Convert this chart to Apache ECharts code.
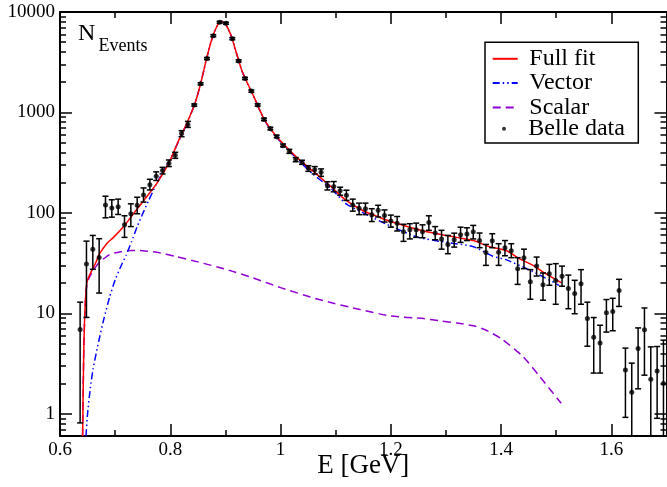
<!DOCTYPE html>
<html><head><meta charset="utf-8">
<script src="https://cdn.jsdelivr.net/npm/echarts@6/dist/echarts.min.js"></script>
<style>html,body{margin:0;padding:0;background:#fff}#c{width:667px;height:487px}</style>
</head><body><div id="c"></div>
<script>
// ---- Belle data (bin centres in GeV, events, error bar ends) ----
const dataE = [0.6365,0.6480,0.6595,0.6710,0.6825,0.6940,0.7055,0.7170,0.7285,0.7400,
0.7515,0.7630,0.7745,0.7860,0.7975,0.8090,0.8205,0.8320,0.8435,0.8550,
0.8665,0.8780,0.8895,0.9010,0.9125,0.9240,0.9355,0.9470,0.9585,0.9700,
0.9815,0.9930,1.0045,1.0160,1.0275,1.0390,1.0505,1.0620,1.0735,1.0850,
1.0965,1.1080,1.1195,1.1310,1.1425,1.1540,1.1655,1.1770,1.1885,1.2000,
1.2115,1.2230,1.2345,1.2460,1.2575,1.2690,1.2805,1.2920,1.3035,1.3150,
1.3265,1.3380,1.3495,1.3610,1.3725,1.3840,1.3955,1.4070,1.4185,1.4300,
1.4415,1.4530,1.4645,1.4760,1.4875,1.4990,1.5105,1.5220,1.5335,1.5450,
1.5565,1.5680,1.5795,1.5910,1.6025,1.6140,1.6255,1.6370,1.6485,1.6600,
1.6715,1.6830,1.6945];
const dataN = [6.9,30.9,43.3,36.0,120,112,115,76,98,119,
151,191,231,264,311,374,618,760,1184,1928,
3439,5816,7910,7730,5430,3260,2177,1631,1184,851,
689,574,467,410,339,319,278,268,254,186,
183,166,150,120,111,110,96,106,94,83,
79,65,68,68,65,80,63,55,48.5,54,
60.7,61.7,65,53,40.2,52.9,40.6,45,42,27.7,
35.8,20.6,29.5,19.2,24.7,21.2,23.4,17.7,15.7,19.7,
8.87,5.78,5.07,10.1,10.4,16.9,2.72,1.64,4.46,6.86,
2.2,2.66,2.0];
const errHi = [12.9,52.3,59.6,55.3,146.5,135,137,93.5,123,143,
177,216,256,284,336,401,658,814,1214,1975,
3520,5950,8080,7900,5560,3340,2235,1675,1218,878,
712,594,485,429,355,334,295,289,274,204,
205,180,168,137,125,125,110,119,107,95,
92,77,78,79,76,93.5,73,67,59.6,62.8,
72,71,75,63,48.5,62,49.3,53,49.3,35.8,
43.5,27.2,36.3,25.2,30.7,31.2,29.5,24,21.3,27.2,
12.9,9.07,7.6,13.7,14.1,21.8,4.5,3.19,7.15,11.3,
4.63,4.67,5.4];
const errLo = [0.81,9.1,27.4,15.9,89.3,90.6,96.4,57,73,98,
128,169,210,244,289,349,573,709,1155,1880,
3355,5675,7720,7540,5300,3180,2125,1590,1155,830,
672,560,455,391,323,304,259,244,231,169,
162,150,133,104,96,96,82,91,81,72,
66,52,55,57,56.5,67,54,43.5,39.2,45.6,
50.8,53,55,45,30,45,30,37.4,35.8,19.4,
27.8,13.8,23.5,13.5,19,12.3,18.6,11.1,9.9,12.3,
4.7,2.54,2.54,6.5,6.7,11.7,0.92,0.1,1.77,2.42,
0.1,0.9,0.1];

// ---- fit curves ----
const fullFitE = [0.641,0.643,0.645,0.647,0.649,0.652,0.659,0.665,0.671,0.685,0.697,0.717,0.729,0.752,0.775,0.798,0.815,0.83,0.845,0.855,0.865,0.875,0.885,0.8925,0.9,0.91,0.92,0.93,0.94,0.95,0.96,0.97,0.98,0.99,1.0,1.03,1.058,1.09,1.119,1.15,1.18,1.2,1.259,1.319,1.35,1.379,1.41,1.433,1.458,1.48,1.509];
const fullFitV = [0.6,4,10,16,20.5,23,27.5,32,38.5,49.5,57,75,91.5,133,194,318,523,780,1240,1930,3300,5300,7300,8100,7600,5900,3900,2600,1950,1500,1130,860,710,600,520,355,263,185,133,105,90,82,66,57,53,46,42,35,30,25,20.2];
const vectorE = [0.6471,0.65,0.655,0.66,0.67,0.68,0.69,0.70,0.71,0.72,0.73,0.74,0.75,0.76,0.775,0.79,0.80,0.815,0.83,0.845,0.855,0.865,0.875,0.885,0.8925,0.9,0.91,0.92,0.93,0.94,0.95,0.96,0.97,0.98,0.99,1.0,1.03,1.058,1.09,1.119,1.15,1.19,1.25,1.3,1.35,1.385,1.41,1.458,1.505];
const vectorV = [0.6,1.0,1.8,2.8,5.2,9.0,14.5,21.5,29,38,52,73,98,130,194,275,340,515,770,1235,1920,3280,5270,7260,8060,7560,5870,3880,2590,1930,1490,1120,850,700,590,510,345,245,178,123,100,78,57,51,46,37,34,26,19];
const scalarE = [0.641,0.643,0.645,0.647,0.649,0.652,0.659,0.671,0.69,0.71,0.73,0.75,0.775,0.81,0.85,0.9,0.95,1.0,1.07,1.144,1.2,1.26,1.29,1.32,1.35,1.37,1.4,1.44,1.47,1.509];
const scalarV = [0.6,4,10,15.5,19.5,22,26,32,38.5,41,42.2,42,40.5,36.8,32.5,27.5,22.5,18,13.7,10.9,9.4,8.85,8.4,8.0,7.5,6.9,5.6,3.7,2.35,1.27];

// ---- axis ticks ----
const xMajor = [0.6,0.8,1,1.2,1.4,1.6];
const xMinor = [0.7,0.9,1.1,1.3,1.5,1.7];
const yMajor = [1,10,100,1000,10000];
const yMinor = [0.6,0.7,0.8,0.9,2,3,4,5,6,7,8,9,20,30,40,50,60,70,80,90,200,300,400,500,600,700,800,900,2000,3000,4000,5000,6000,7000,8000,9000];

const FONT = 'Liberation Serif';
const zip = (a,b) => a.map((v,i)=>[v,b[i]]);

const chart = echarts.init(document.getElementById('c'), null, {renderer:'canvas'});
const tickStyle = {color:'#000', width:1.5};
function xAx(pos, ticks, len, main){
  return {type:'value', position:pos, min:0.6, max:1.7, gridIndex:0,
    axisLine:{show:!!main, onZero:false, lineStyle:{color:'#000', width:2}},
    axisTick:{show:true, inside:true, length:len, customValues:ticks, lineStyle:tickStyle},
    axisLabel:{show: main===2, customValues:xMajor, margin:5, color:'#000', fontFamily:FONT, fontSize:19,
      formatter: v => String(v)},
    splitLine:{show:false},
    name: main===2 ? 'E [GeV]' : '', nameLocation:'middle', nameGap:16, nameMoveOverlap:false,
    nameTextStyle:{fontFamily:FONT, fontSize:27, color:'#000', verticalAlign:'top'}
  };
}
function yAx(pos, ticks, len, main){
  return {type:'log', logBase:10, position:pos, min:0.6, max:10000, gridIndex:0,
    axisLine:{show:!!main, onZero:false, lineStyle:{color:'#000', width:2}},
    axisTick:{show:true, inside:true, length:len, customValues:ticks, lineStyle:tickStyle},
    axisLabel:{show: main===2, customValues:yMajor, margin:5, color:'#000', fontFamily:FONT, fontSize:19,
      formatter: v => String(Math.round(v))},
    splitLine:{show:false}, minorTick:{show:false}
  };
}

const option = {
  animation:false,
  backgroundColor:'#fff',
  grid:{left:60, top:12, width:606.5, height:424, outerBoundsMode:'none', containLabel:false},
  xAxis:[xAx('bottom', xMajor, 12, 2), xAx('bottom', xMinor, 6, 0), xAx('top', xMajor, 12, 1), xAx('top', xMinor, 6, 0)],
  yAxis:[yAx('left', yMajor, 12, 2), yAx('left', yMinor, 6, 0), yAx('right', yMajor, 12, 1), yAx('right', yMinor, 6, 0)],
  legend:[
    {data:['Full fit','Vector','Scalar'], orient:'vertical', left:491.7, top:46.8, padding:0,
     itemWidth:25, itemHeight:14, itemGap:0.3, itemStyle:{opacity:0},
     textStyle:{fontFamily:FONT, fontSize:24, color:'#000', lineHeight:23, padding:[0,0,0,6.6]}},
    {data:[{name:'Belle data', icon:'circle'}], orient:'vertical', left:502, top:116.8, padding:0,
     itemWidth:4, itemHeight:4,
     textStyle:{fontFamily:FONT, fontSize:24, color:'#000', lineHeight:23, padding:[0,0,0,17.3]}}
  ],
  graphic:[
    {type:'rect', shape:{x:485, y:42.3, width:153.3, height:100.7}, style:{fill:'none', stroke:'#000', lineWidth:1.5}, z:100},
    {type:'text', x:78, y:34, style:{text:'N', fontFamily:FONT, fontSize:24, fill:'#000', verticalAlign:'middle'}},
    {type:'text', x:98.5, y:46.5, style:{text:'Events', fontFamily:FONT, fontSize:18, fill:'#000', verticalAlign:'middle'}}
  ],
  series:[
    {name:'Scalar', type:'line', data:zip(scalarE, scalarV), symbol:'none', smooth:0.2, z:2,
     lineStyle:{color:'#9400d3', width:1.5, type:[8,5]}, itemStyle:{color:'#9400d3'}},
    {name:'Vector', type:'line', data:zip(vectorE, vectorV), symbol:'none', smooth:0.2, z:2,
     lineStyle:{color:'#0000ff', width:1.5, type:[7,3,1.5,3,1.5,3]}, itemStyle:{color:'#0000ff'}},
    {name:'Full fit', type:'line', data:zip(fullFitE, fullFitV), symbol:'none', smooth:0.2, z:3,
     lineStyle:{color:'#ff0000', width:1.5}, itemStyle:{color:'#ff0000'}},
    {name:'errors', type:'custom', coordinateSystem:'cartesian2d', clip:true, z:4,
     data: dataE.map((e,i)=>[e, errLo[i], errHi[i]]),
     encode:{x:0, y:[1,2]},
     renderItem:function(params, api){
       const x = api.value(0), lo = api.value(1), hi = api.value(2);
       const p1 = api.coord([x, hi]), p2 = api.coord([x, lo]);
       const cw = 3, st = {stroke:'#000', lineWidth:1.5};
       return {type:'group', children:[
         {type:'line', shape:{x1:p1[0], y1:p1[1], x2:p2[0], y2:p2[1]}, style:st},
         {type:'line', shape:{x1:p1[0]-cw, y1:p1[1], x2:p1[0]+cw, y2:p1[1]}, style:st},
         {type:'line', shape:{x1:p2[0]-cw, y1:p2[1], x2:p2[0]+cw, y2:p2[1]}, style:st}
       ]};
     }},
    {name:'Belle data', type:'scatter', data:zip(dataE, dataN), symbol:'circle', symbolSize:5, z:5,
     itemStyle:{color:'#000'}}
  ]
};
chart.setOption(option);
</script>
</body></html>
